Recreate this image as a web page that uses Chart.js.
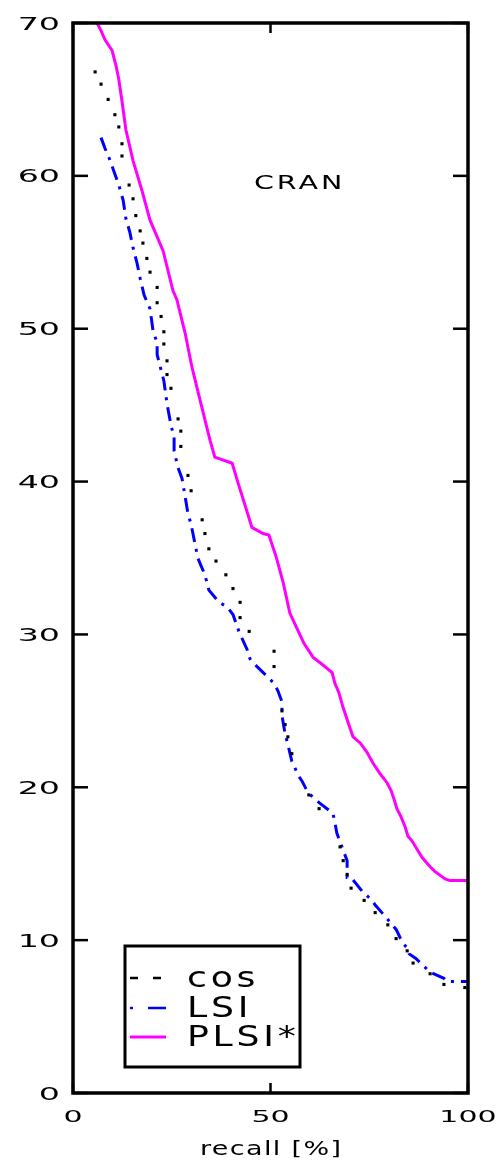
<!DOCTYPE html>
<html>
<head>
<meta charset="utf-8">
<script src="https://cdn.jsdelivr.net/npm/chart.js@4"></script>
<style>
  html, body { margin: 0; padding: 0; background: #fff; }
  #wrap { width: 499px; height: 1161px; }
</style>
</head>
<body>
<div id="wrap"><canvas id="prChart" width="499" height="1161"></canvas></div>
<script>
// precision (%) vs recall (%) on CRAN
const xTicks = [0, 50, 100];
const yTicks = [0, 10, 20, 30, 40, 50, 60, 70];

const cosRecall = [5.6, 7.1, 8.9, 10.6, 11.6, 12.4, 12.4, 14.2, 15.2, 15.9, 17.0, 17.7, 18.7, 19.5, 21.3,
  21.3, 22.3, 23.0, 23.0, 23.8, 23.8, 24.8, 26.6, 27.3, 27.3, 29.1, 29.9, 32.7, 33.4, 34.4, 36.2, 38.7,
  40.5, 42.3, 42.3, 44.6, 50.9, 50.9, 52.9, 53.7, 54.4, 55.4, 59.7, 62.3, 67.6, 68.4, 69.4, 70.4, 73.7,
  76.5, 79.7, 81.8, 84.6, 86.1, 90.4, 93.9, 99.2];
const cosPrecision = [66.8, 66.0, 65.0, 64.0, 63.2, 62.1, 61.3, 59.4, 58.5, 57.4, 56.4, 55.6, 54.6, 53.7, 52.7,
  51.7, 50.8, 49.8, 49.0, 47.9, 47.0, 46.1, 44.1, 43.3, 42.3, 40.4, 39.4, 37.5, 36.6, 35.6, 34.8, 33.9,
  33.0, 32.1, 31.1, 30.2, 28.9, 27.9, 25.0, 24.1, 23.3, 22.2, 19.5, 18.6, 16.1, 15.2, 14.3, 13.4, 12.6,
  11.8, 11.0, 10.1, 9.3, 8.5, 7.8, 7.1, 6.9];

const lsiRecall = [7.1, 8.1, 9.1, 11.6, 12.7, 13.4, 14.4, 15.2, 16.2, 17.0, 18.0, 19.5, 20.3, 21.3, 21.3,
  23.0, 23.8, 24.8, 25.6, 25.6, 26.6, 27.6, 28.4, 29.1, 29.9, 31.6, 32.4, 33.4, 34.4, 37.0, 39.0, 40.5,
  42.0, 44.1, 44.8, 45.8, 50.9, 51.9, 52.9, 52.9, 53.7, 54.4, 55.4, 57.2, 58.0, 59.0, 59.7, 62.3, 65.8,
  66.3, 66.8, 67.8, 69.4, 69.4, 70.4, 73.2, 75.7, 76.5, 78.2, 79.2, 81.8, 83.5, 84.6, 85.1, 86.8, 90.4,
  93.9, 94.7, 100];
const lsiPrecision = [62.5, 61.8, 61.2, 59.4, 58.4, 57.2, 56.3, 55.3, 54.3, 53.3, 52.2, 51.3, 49.8, 49.1, 48.3,
  46.6, 45.1, 43.7, 42.9, 42.0, 40.9, 40.2, 39.0, 37.9, 37.2, 35.0, 34.5, 33.9, 32.9, 32.1, 31.8, 31.3,
  30.2, 29.0, 28.4, 28.1, 26.8, 26.3, 25.6, 24.7, 23.5, 22.8, 21.7, 20.7, 20.4, 19.9, 19.6, 19.0, 18.3,
  17.7, 17.0, 16.3, 15.2, 14.1, 14.1, 13.2, 12.6, 12.3, 11.8, 11.5, 10.7, 9.8, 9.5, 9.1, 8.8, 7.9,
  7.5, 7.3, 7.3];

const plsiRecall = [6.1, 7.1, 8.1, 9.9, 10.9, 11.6, 12.4, 13.4, 15.2, 17.5, 19.5, 22.8, 25.3, 26.3, 28.4,
  30.1, 32.2, 34.7, 35.9, 40.3, 41.8, 43.5, 45.3, 48.1, 49.6, 51.4, 53.2, 54.9, 56.7, 58.5, 60.8, 63.3,
  65.6, 66.3, 67.3, 68.4, 70.1, 70.9, 72.7, 74.4, 75.9, 77.7, 79.5, 80.5, 81.3, 82.0, 83.0, 84.1, 84.8,
  85.8, 88.4, 90.4, 91.6, 94.2, 95.4, 100];
const plsiPrecision = [70.0, 69.5, 68.9, 68.2, 67.2, 66.3, 64.9, 63.0, 61.0, 59.0, 57.1, 55.1, 52.5, 51.9, 49.7,
  47.5, 45.3, 42.7, 41.6, 41.2, 39.9, 38.5, 37.0, 36.6, 36.5, 35.1, 33.4, 31.4, 30.4, 29.4, 28.5, 28.0,
  27.5, 26.8, 26.2, 25.2, 23.9, 23.3, 22.9, 22.3, 21.6, 20.9, 20.3, 19.8, 19.2, 18.6, 18.1, 17.4, 16.8,
  16.5, 15.4, 14.8, 14.5, 14.0, 13.9, 13.9];

const toPoints = (xs, ys) => xs.map((v, i) => ({ x: v, y: ys[i] }));

// the old bitmap font is very wide, so text is stretched horizontally
function wideText(ctx, str, x, y, size, sx, ls, align) {
  ctx.save();
  ctx.font = size + 'px "DejaVu Sans"';
  ctx.letterSpacing = ls + 'px';
  const w = (ctx.measureText(str).width - ls) * sx;
  const x0 = align === 'right' ? x - w : align === 'center' ? x - w / 2 : x;
  ctx.translate(x0, y);
  ctx.scale(sx, 1);
  ctx.textAlign = 'left';
  ctx.textBaseline = 'alphabetic';
  ctx.fillStyle = '#000';
  ctx.fillText(str, 0, 0);
  ctx.restore();
}

function seg(ctx, x1, y1, x2, y2) {
  ctx.beginPath();
  ctx.moveTo(x1, y1);
  ctx.lineTo(x2, y2);
  ctx.stroke();
}

// box frame, inward ticks, tick labels, axis title, panel name
const framePlugin = {
  id: 'frame',
  afterDraw(chart) {
    const { ctx, chartArea: a, scales: { x, y } } = chart;
    ctx.save();
    ctx.strokeStyle = '#000';
    ctx.lineCap = 'butt';
    ctx.lineWidth = 3.5;
    ctx.strokeRect(a.left, a.top, a.right - a.left, a.bottom - a.top);
    ctx.lineWidth = 2.5;
    yTicks.forEach(v => {
      const py = y.getPixelForValue(v);
      seg(ctx, a.left, py, a.left + 15, py);
      seg(ctx, a.right - 15, py, a.right, py);
      wideText(ctx, String(v), 60, py + 6.5, 18, 1.85, 0, 'right');
    });
    xTicks.forEach(v => {
      const px = x.getPixelForValue(v);
      seg(ctx, px, a.bottom, px, a.bottom - 10);
      seg(ctx, px, a.top, px, a.top + 10);
      wideText(ctx, String(v), px, 1122, 15, 2.0, 0, 'center');
    });
    wideText(ctx, 'recall [%]', (a.left + a.right) / 2, 1155, 20, 1.35, 1, 'center');
    wideText(ctx, 'CRAN', x.getPixelForValue(57), y.getPixelForValue(59.6) + 7, 19, 1.5, 2, 'center');
    ctx.restore();
  }
};

// legend box in the lower left corner of the plot
const legendPlugin = {
  id: 'boxLegend',
  afterDraw(chart) {
    const ctx = chart.ctx;
    const bx = 125, by = 946, bw = 175, bh = 121;
    ctx.save();
    ctx.fillStyle = '#fff';
    ctx.fillRect(bx, by, bw, bh);
    ctx.strokeStyle = '#000';
    ctx.lineWidth = 3;
    ctx.strokeRect(bx, by, bw, bh);
    const rows = [978, 1008, 1037];
    chart.data.datasets.forEach((ds, i) => {
      const ry = rows[i];
      ctx.strokeStyle = ds.legendColor;
      ctx.lineWidth = i === 2 ? 3 : 2.5;
      ctx.setLineDash(ds.legendDash);
      seg(ctx, 130, ry, 166, ry);
      ctx.setLineDash([]);
      wideText(ctx, ds.label, 187, ry + 9, 29, 1.25, 3, 'left');
    });
    ctx.restore();
  }
};

new Chart(document.getElementById('prChart'), {
  type: 'scatter',
  data: {
    datasets: [
      {
        label: 'cos',
        data: toPoints(cosRecall, cosPrecision),
        showLine: false,
        pointStyle: 'rect',
        pointRadius: 2.2,
        pointBorderWidth: 0,
        pointBackgroundColor: '#000',
        legendColor: '#000',
        legendDash: [8, 15]
      },
      {
        label: 'LSI',
        data: toPoints(lsiRecall, lsiPrecision),
        showLine: true,
        borderColor: '#0000ff',
        borderWidth: 3,
        borderDash: [14, 7, 3, 7],
        pointRadius: 0,
        tension: 0,
        legendColor: '#0000ff',
        legendDash: [3, 15, 18, 0]
      },
      {
        label: 'PLSI*',
        data: toPoints(plsiRecall, plsiPrecision),
        showLine: true,
        borderColor: '#ff00ff',
        borderWidth: 3,
        pointRadius: 0,
        tension: 0,
        legendColor: '#ff00ff',
        legendDash: []
      }
    ]
  },
  options: {
    responsive: false,
    animation: false,
    layout: { padding: { left: 73, right: 31, top: 23, bottom: 68 } },
    scales: {
      x: { type: 'linear', min: 0, max: 100, display: false },
      y: { type: 'linear', min: 0, max: 70, display: false }
    },
    plugins: {
      legend: { display: false },
      tooltip: { enabled: false }
    }
  },
  plugins: [framePlugin, legendPlugin]
});
</script>
</body>
</html>
